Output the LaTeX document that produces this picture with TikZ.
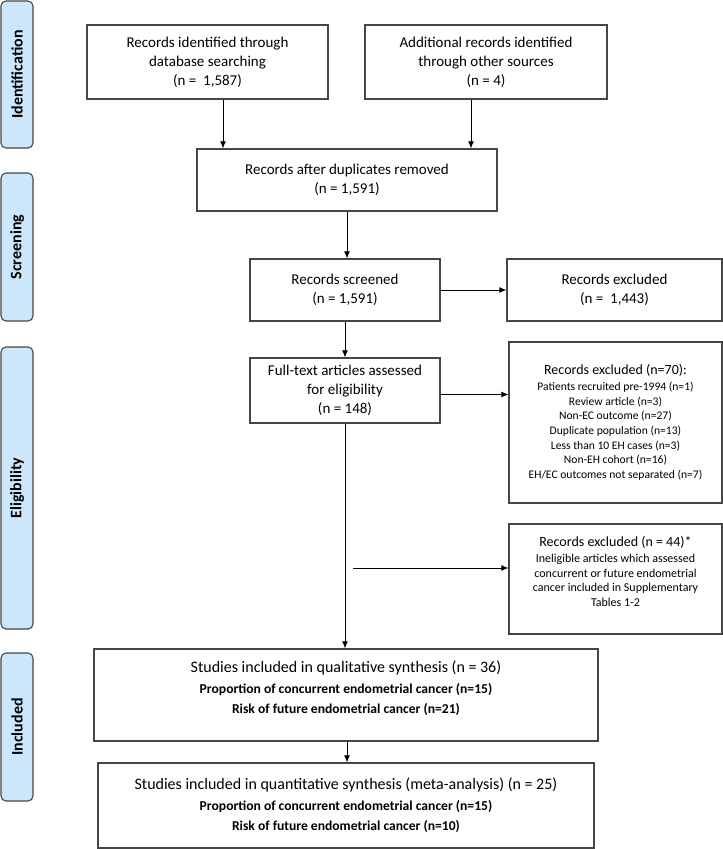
\documentclass[tikz,border=0pt]{standalone}
\usepackage{fontspec}
\setmainfont{Carlito}
\usepackage{tikz}
\usetikzlibrary{shapes,arrows.meta,positioning}
\definecolor{stageblue}{RGB}{204,231,251}
\definecolor{linegray}{RGB}{70,70,70}
\newcommand{\prismamain}{\fontsize{15}{19}\selectfont}
\newcommand{\prismahead}{\fontsize{14}{19}\selectfont}
\newcommand{\prismawide}{\fontsize{16}{20}\selectfont}
\newcommand{\prismanote}{\fontsize{11.6}{14.7}\selectfont}
\newcommand{\prismabold}{\fontsize{13.6}{14.5}\selectfont\bfseries}
\tikzstyle{box} = [draw=linegray, line width=1.1pt, rectangle, fill=white,
    align=center, inner sep=3pt, font=\prismamain]
\tikzstyle{stage} = [draw=linegray, line width=1.1pt, rectangle, rounded corners=5pt,
    fill=stageblue, rotate=90, minimum height=32pt, font=\fontsize{16}{18}\selectfont\bfseries]
\tikzstyle{arr} = [-{Latex[length=7pt,width=6pt]}, line width=1pt, black]

\begin{document}
\begin{tikzpicture}[x=1pt, y=-1pt, node distance=100pt]
  \useasboundingbox (0,0) rectangle (723,849);
  % stage labels
  \node [stage, minimum width=147pt] (sid) at (17,74.5) {Identification};
  \node [stage, minimum width=148pt] (sscr) at (17,247) {Screening};
  \node [stage, minimum width=282pt] (selig) at (17,488) {Eligibility};
  \node [stage, minimum width=148pt] (sinc) at (17,727) {Included};

  % identification
  \node [box, minimum width=241pt, minimum height=74pt] (dbase) at (207.5,62)
  {Records identified through\\database searching\\(n =\ \ 1,587)};
  \node [box, minimum width=242pt, minimum height=74pt, right of=dbase, node distance=278.5pt] (other)
  {Additional records identified\\through other sources\\(n = 4)};
  \node [box, minimum width=300pt, minimum height=62pt] (dup) at (347,180)
  {Records after duplicates removed\\(n = 1,591)};

  % screening
  \node [box, minimum width=190pt, minimum height=62pt] (scr) at (345,290)
  {Records screened\\(n = 1,591)};
  \node [box, minimum width=215pt, minimum height=62pt] (exscr) at (614.5,290)
  {Records excluded\\(n =\ \ 1,443)};

  % eligibility
  \node [box, minimum width=190pt, minimum height=65pt, below of=scr, node distance=100.5pt] (full)
  {Full-text articles assessed\\for eligibility\\(n = 148)};
  \node [box, minimum width=213pt, minimum height=161pt, font=\prismanote] (exfull) at (615.5,422.5)
  {{\prismahead Records excluded (n=70):}\\[1pt]
   Patients recruited pre-1994 (n=1)\\
   Review article (n=3)\\
   Non-EC outcome (n=27)\\
   Duplicate population (n=13)\\
   Less than 10 EH cases (n=3)\\
   Non-EH cohort (n=16)\\
   EH/EC outcomes not separated (n=7)};
  \node [box, minimum width=213pt, minimum height=110pt, font=\fontsize{12}{14.7}\selectfont,
         below of=exfull, node distance=156.5pt] (exsupp)
  {{\prismahead Records excluded (n = 44)*}\\[1pt]
   Ineligible articles which assessed\\
   concurrent or future endometrial\\
   cancer included in Supplementary\\
   Tables 1-2\\ ~};

  % included
  \node [box, minimum width=504pt, minimum height=92pt, font=\prismawide] (qual) at (346,695)
  {Studies included in qualitative synthesis (n = 36)\\[1pt]
   {\prismabold Proportion of concurrent endometrial cancer (n=15)}\\
   {\prismabold Risk of future endometrial cancer (n=21)}\\[-4pt] ~};
  \node [box, minimum width=496pt, minimum height=85pt, font=\prismawide, below of=qual, node distance=110.5pt] (quant)
  {Studies included in quantitative synthesis (meta-analysis) (n = 25)\\[1pt]
   {\prismabold Proportion of concurrent endometrial cancer (n=15)}\\
   {\prismabold Risk of future endometrial cancer (n=10)}};

  \coordinate (branch) at (353,568);

  \draw [arr] ([xshift=15.5pt]dbase.south) -- ([xshift=15.5pt]dbase.south |- dup.north);
  \draw [arr] ([xshift=-15pt]other.south) -- ([xshift=-15pt]other.south |- dup.north);
  \draw [arr] (dup.south) -- (dup.south |- scr.north);
  \draw [arr] (scr.east) -- (exscr.west);
  \draw [arr] (scr.south) -- (full.north);
  \draw [arr] ([yshift=-4pt]full.east) -- ([yshift=-4pt]full.east -| exfull.west);
  \draw [arr] (full.south) -- (full.south |- qual.north);
  \draw [arr] (branch) -- (branch -| exsupp.west);
  \draw [arr] ([xshift=1pt]qual.south) -- ([xshift=1pt]qual.south |- quant.north);
\end{tikzpicture}
\end{document}
